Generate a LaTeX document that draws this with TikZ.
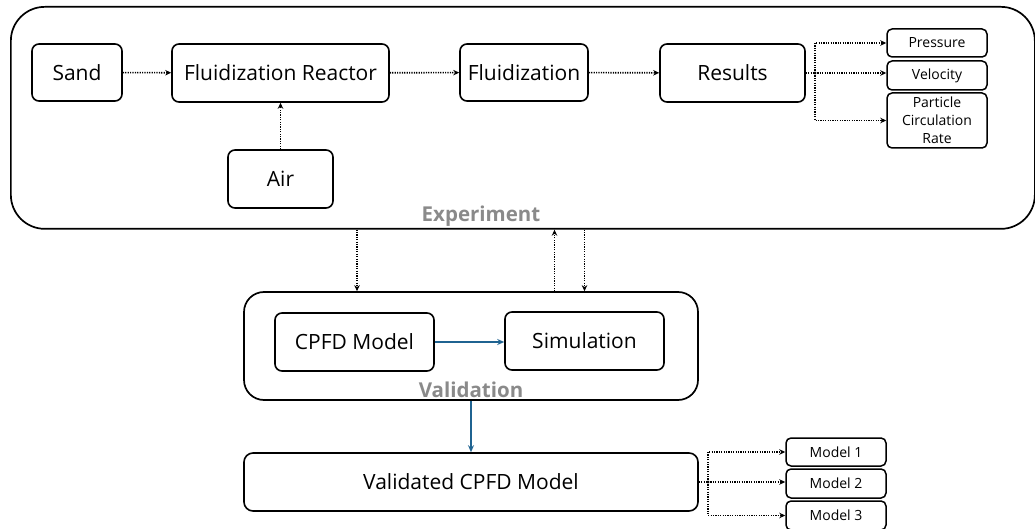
\documentclass[tikz,border=0pt]{standalone}
\usepackage{fontspec}
\setmainfont{Open Sans}
\usetikzlibrary{arrows.meta,calc}
\definecolor{flowblue}{HTML}{1F6391}
\definecolor{labelgray}{HTML}{8A8A8A}
\tikzset{
  box/.style={draw, line width=1.6pt, rounded corners=7pt, inner sep=0pt, align=center,
    font=\fontsize{21}{24}\selectfont},
  smallbox/.style={draw, line width=1.5pt, rounded corners=5pt, inner sep=0pt, align=center,
    minimum width=100pt, font=\fontsize{14}{18}\selectfont},
  frame/.style={draw, line width=1.7pt, inner sep=0pt},
  dotarrow/.style={line width=1.6pt, dash pattern=on 1.2pt off 1.2pt,
    -{Stealth[length=6pt,width=5.5pt]}},
  dotline/.style={line width=1.6pt, dash pattern=on 1.2pt off 1.2pt},
  bluearrow/.style={draw=flowblue, line width=1.4pt, -{Stealth[length=7pt,width=6pt]}},
  grouplabel/.style={text=labelgray, font=\bfseries\fontsize{20.5}{22}\selectfont, inner sep=0pt}
}
\begin{document}
\begin{tikzpicture}[x=1pt,y=-1pt]
\useasboundingbox (0,0) rectangle (1035,529);

% Experiment group
\node[frame, rounded corners=34pt, anchor=north west, minimum width=1024pt, minimum height=222pt] (exp) at (10,6) {};
\node[grouplabel] (explabel) at (481,216) {Experiment};

\node[box, minimum width=90pt, minimum height=57pt] (sand) at (77,72.5) {Sand};
\node[box, minimum width=217pt, minimum height=58pt] (reactor) at (280.5,73) {Fluidization Reactor};
\node[box, minimum width=105pt, minimum height=58pt] (air) at (280.5,179) {Air};
\node[box, minimum width=128pt, minimum height=57pt] (fluid) at (524,72.5) {Fluidization};
\node[box, minimum width=145pt, minimum height=58pt] (results) at (732.5,73) {Results};

\node[smallbox, minimum height=28pt] (pressure) at (937,43) {Pressure};
\node[smallbox, minimum height=29pt] (velocity) at (937,75.5) {Velocity};
\node[smallbox, minimum height=55pt] (pcr) at (937,120.5) {Particle\\Circulation\\Rate};

\draw[dotarrow] (sand) -- (reactor);
\draw[dotarrow] (air) -- (reactor);
\draw[dotarrow] (reactor) -- (fluid);
\draw[dotarrow] (fluid) -- (results);

\coordinate (rj) at (815,73);
\draw[dotline] (results.east) -- (rj);
\draw[dotarrow] (rj) |- (pressure.west);
\draw[dotarrow] (rj) -- (velocity.west |- rj);
\draw[dotarrow] (rj) |- (pcr.west);
\fill (rj) circle (1.6pt);

% Validation group
\node[frame, rounded corners=20pt, minimum width=454pt, minimum height=108pt] (val) at (471,346) {};
\node[grouplabel] (vallabel) at (471,390) {Validation};
\node[box, minimum width=159pt, minimum height=58pt] (cp) at (354.5,342) {CPFD Model};
\node[box, minimum width=159pt, minimum height=58pt] (sim) at (584.5,341) {Simulation};
\draw[bluearrow] (cp) -- (sim.west |- cp);

% Exchange between the two groups
\draw[dotarrow] ([xshift=2.5pt]cp.north |- exp.south) -- ([xshift=2.5pt]cp.north |- val.north);
\draw[dotarrow] ([xshift=-30pt]sim.north |- val.north) -- ([xshift=-30pt]sim.north |- exp.south);
\draw[dotarrow] (sim.north |- exp.south) -- (sim.north |- val.north);

% Validated model and its variants
\node[box, rounded corners=9pt, minimum width=454pt, minimum height=58pt] (vcm) at (471,482) {Validated CPFD Model};
\draw[bluearrow] (val.south) -- (vcm.north);

\node[smallbox, minimum height=28pt] (m1) at (836,452) {Model 1};
\node[smallbox, minimum height=29pt] (m2) at (836,483.5) {Model 2};
\node[smallbox, minimum height=29pt] (m3) at (836,515.5) {Model 3};

\coordinate (vj) at (708,482);
\draw[dotline] (vcm.east) -- (vj);
\draw[dotarrow] (vj) |- (m1.west);
\draw[dotarrow] (vj) -- (m2.west |- vj);
\draw[dotarrow] (vj) |- (m3.west);
\fill (vj) circle (1.6pt);
\end{tikzpicture}
\end{document}
